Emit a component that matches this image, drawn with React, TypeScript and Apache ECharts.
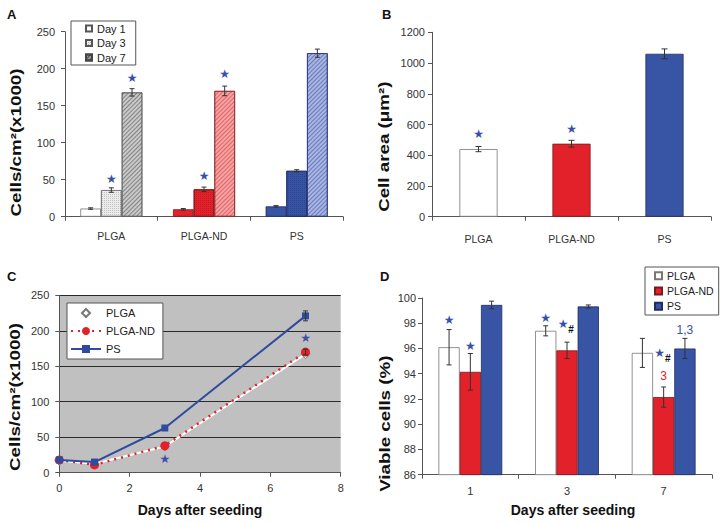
import React, { useEffect, useRef } from "react";
import * as echarts from "echarts";

// ---------- Panel A: cell density by substrate and day ----------
const groups = ["PLGA", "PLGA-ND", "PS"];
const densityDays = ["Day 1", "Day 3", "Day 7"];
const densityTicks = [0, 50, 100, 150, 200, 250];
const densityDay1 = [11, 10, 14];
const densityDay3 = [36, 37, 62];
const densityDay7 = [168, 170, 221];
const densityErrDay1 = [1, 1, 1];
const densityErrDay3 = [3, 3, 1.5];
const densityErrDay7 = [5, 6.5, 5.5];
// [group, day index, star height in data units]
const densityStars = [
  [0, 1, 51],
  [0, 2, 187],
  [1, 1, 55],
  [1, 2, 193],
];

// ---------- Panel B: cell area ----------
const areaTicks = [0, 200, 400, 600, 800, 1000, 1200];
const areaValues = [440, 475, 1060];
const areaErr = [17, 22, 32];
const areaStars = [
  [0, 536],
  [1, 569],
];

// ---------- Panel C: growth curves ----------
const growthXTicks = [0, 2, 4, 6, 8];
const growthYTicks = [0, 50, 100, 150, 200, 250];
const growthDays = [0, 1, 3, 7];
const growthPLGA = [17, 12.5, 37, 167];
const growthND = [18, 11, 38, 170];
const growthPS = [18, 15, 63, 221];
const growthNDErr = [0, 0, 0, 4];
const growthPSErr = [0, 0, 0, 7];
const growthStars = [
  [3, 20],
  [7, 190],
];

// ---------- Panel D: viability ----------
const viableDays = ["1", "3", "7"];
const viableNames = ["PLGA", "PLGA-ND", "PS"];
const viableTicks = [86, 88, 90, 92, 94, 96, 98, 100];
const viablePLGA = [96.1, 97.4, 95.65];
const viableND = [94.15, 95.85, 92.15];
const viablePS = [99.45, 99.33, 96.0];
const viablePLGAErr = [1.4, 0.4, 1.15];
const viableNDErr = [1.45, 0.65, 0.8];
const viablePSErr = [0.3, 0.12, 0.8];
const viableMarks = [
  { day: 0, bar: 0, y: 98.26, text: "★", kind: "star" },
  { day: 0, bar: 1, y: 96.2, text: "★", kind: "star" },
  { day: 1, bar: 0, y: 98.4, text: "★", kind: "star" },
  { day: 1, bar: 1, y: 97.96, text: "★", kind: "starL" },
  { day: 1, bar: 1, y: 97.47, text: "#", kind: "hash" },
  { day: 2, bar: 1, y: 95.67, text: "★", kind: "starL" },
  { day: 2, bar: 1, y: 95.17, text: "#", kind: "hash" },
  { day: 2, bar: 1, y: 93.82, text: "3", kind: "red" },
  { day: 2, bar: 2, y: 97.47, text: "1,3", kind: "blue" },
];

// ---------- styles ----------
const RED = "#e3212a";
const BLUE = "#3754a5";
const STAR_BLUE = "#3a50a8";
const AXIS = "#555";
const LABEL = "#333";
const FONT = "Liberation Sans";

const markStyle: Record<string, any> = {
  star: { dx: 0, fill: STAR_BLUE, font: `12px "DejaVu Sans"` },
  starL: { dx: -4, fill: STAR_BLUE, font: `12px "DejaVu Sans"` },
  hash: { dx: 4, fill: "#111", font: `bold 10px "${FONT}"` },
  red: { dx: 0, fill: RED, font: `12px "${FONT}"` },
  blue: { dx: 0, fill: STAR_BLUE, font: `12px "${FONT}"` },
};

const dots = (c: string) => ({
  symbol: "rect",
  symbolSize: 1,
  dashArrayX: [1, 1],
  dashArrayY: [1, 1],
  color: c,
});
const hatch = (c: string) => ({
  symbol: "rect",
  symbolSize: 1,
  dashArrayX: [1, 0],
  dashArrayY: [1, 2],
  rotation: -Math.PI / 4,
  color: c,
});

const day1Styles = [
  { color: "#ffffff", borderColor: "#777", borderWidth: 0.8 },
  { color: RED, borderColor: "#7a1a1a", borderWidth: 0.8 },
  { color: BLUE, borderColor: "#1f2d60", borderWidth: 0.8 },
];
const day3Styles = [
  { color: "#ececec", borderColor: "#777", borderWidth: 0.8, decal: dots("rgba(0,0,0,0.18)") },
  { color: RED, borderColor: "#7a1a1a", borderWidth: 0.8, decal: dots("rgba(120,0,0,0.25)") },
  { color: BLUE, borderColor: "#1f2d60", borderWidth: 0.8, decal: dots("rgba(10,20,70,0.25)") },
];
const day7Styles = [
  { color: "#c9c9c9", borderColor: "#666", borderWidth: 0.8, decal: hatch("rgba(0,0,0,0.35)") },
  { color: "#f6a3a3", borderColor: "#8a3030", borderWidth: 0.8, decal: hatch("rgba(200,20,30,0.45)") },
  { color: "#aab6e2", borderColor: "#2a3a78", borderWidth: 0.8, decal: hatch("rgba(40,60,150,0.5)") },
];
const areaStyles = [
  { color: "#ffffff", borderColor: "#777", borderWidth: 0.8 },
  { color: RED, borderColor: "#7a1a1a", borderWidth: 0.8 },
  { color: BLUE, borderColor: "#1f2d60", borderWidth: 0.8 },
];
const viableStyles = [
  { color: "#ffffff", borderColor: "#777", borderWidth: 0.8 },
  { color: RED, borderColor: "#7a1a1a", borderWidth: 0.8 },
  { color: BLUE, borderColor: "#1f2d60", borderWidth: 0.8 },
];

const GAP_A = 0.33;
const GAP_B = 0.59;
const GAP_D = 0.34;

function errRender(nBars: number, gap: number, cap: number) {
  return (_params: any, api: any) => {
    const cat = api.value(0);
    const v = api.value(1);
    const e = api.value(2);
    const bar = api.value(3);
    if (!e) return null;
    const band = api.size([1, 0])[0];
    const bw = (band * (1 - gap)) / nBars;
    const top = api.coord([cat, v + e]);
    const bot = api.coord([cat, v - e]);
    const x = top[0] + (bar - (nBars - 1) / 2) * bw;
    const st = { stroke: "#333", lineWidth: 1 };
    return {
      type: "group",
      children: [
        { type: "line", shape: { x1: x, y1: top[1], x2: x, y2: bot[1] }, style: st },
        { type: "line", shape: { x1: x - cap, y1: top[1], x2: x + cap, y2: top[1] }, style: st },
        { type: "line", shape: { x1: x - cap, y1: bot[1], x2: x + cap, y2: bot[1] }, style: st },
      ],
    };
  };
}

function markRender(nBars: number, gap: number, kinds: string[], texts: string[]) {
  return (params: any, api: any) => {
    const cat = api.value(0);
    const y = api.value(1);
    const bar = api.value(2);
    const band = api.size([1, 0])[0];
    const bw = (band * (1 - gap)) / nBars;
    const p = api.coord([cat, y]);
    const s = markStyle[kinds[params.dataIndex]];
    return {
      type: "text",
      x: p[0] + (bar - (nBars - 1) / 2) * bw + s.dx,
      y: p[1],
      style: {
        text: texts[params.dataIndex],
        fill: s.fill,
        font: s.font,
        align: "center",
        verticalAlign: "middle",
        textAlign: "center",
        textVerticalAlign: "middle",
      },
    };
  };
}

const catAxis = (gridIndex: number, data: string[], margin: number, fontSize: number) => ({
  type: "category",
  gridIndex,
  data,
  axisLine: { show: true, lineStyle: { color: AXIS, width: 1 } },
  axisTick: { show: true, length: 4, lineStyle: { color: AXIS } },
  axisLabel: { margin, fontSize, color: LABEL, fontFamily: FONT },
  splitLine: { show: false },
});

const valAxis = (gridIndex: number, ticks: number[], margin: number, split: boolean) => ({
  type: "value",
  gridIndex,
  min: ticks[0],
  max: ticks[ticks.length - 1],
  interval: ticks[1] - ticks[0],
  axisLine: { show: true, onZero: false, lineStyle: { color: AXIS, width: 1 } },
  axisTick: { show: true, length: 4, lineStyle: { color: AXIS } },
  axisLabel: {
    margin,
    fontSize: 11,
    color: LABEL,
    fontFamily: FONT,
    formatter: (v: number) => String(v),
  },
  splitLine: { show: split, lineStyle: { color: "#2a2a2a", width: 1 } },
});

const label = (text: string, x: number, y: number) => ({
  type: "text",
  x,
  y,
  style: {
    text,
    fill: "#111",
    font: `bold 13px "${FONT}"`,
    align: "left",
    verticalAlign: "top",
    textAlign: "left",
    textVerticalAlign: "top",
  },
});

const yName = (text: string, x: number, y: number) => ({
  type: "text",
  x,
  y,
  rotation: Math.PI / 2,
  scaleX: 1.34,
  scaleY: 1,
  style: {
    text,
    fill: "#111",
    font: `bold 14px "${FONT}"`,
    align: "center",
    verticalAlign: "middle",
    textAlign: "center",
    textVerticalAlign: "middle",
  },
});

const xName = (text: string, x: number, y: number) => ({
  type: "text",
  x,
  y,
  style: {
    text,
    fill: "#111",
    font: `bold 14px "${FONT}"`,
    align: "center",
    verticalAlign: "middle",
    textAlign: "center",
    textVerticalAlign: "middle",
  },
});

function buildOption() {
  const densityVals = [densityDay1, densityDay3, densityDay7];
  const densityErrs = [densityErrDay1, densityErrDay3, densityErrDay7];
  const densityStyleSets = [day1Styles, day3Styles, day7Styles];
  const densityLegendStyles = [
    { color: "#ffffff", borderColor: "#555", borderWidth: 0.8 },
    { color: "#ececec", borderColor: "#555", borderWidth: 0.8, decal: dots("rgba(0,0,0,0.25)") },
    { color: "#999999", borderColor: "#444", borderWidth: 0.8, decal: hatch("rgba(0,0,0,0.55)") },
  ];

  const densityBars = densityDays.map((d, k) => ({
    type: "bar",
    name: d,
    xAxisIndex: 0,
    yAxisIndex: 0,
    barGap: "0%",
    barCategoryGap: `${GAP_A * 100}%`,
    itemStyle: densityLegendStyles[k],
    data: densityVals[k].map((v, i) => ({ value: v, itemStyle: densityStyleSets[k][i] })),
  }));

  const densityErrData: number[][] = [];
  densityVals.forEach((vals, k) =>
    vals.forEach((v, i) => densityErrData.push([i, v, densityErrs[k][i], k]))
  );

  const viableVals = [viablePLGA, viableND, viablePS];
  const viableErrs = [viablePLGAErr, viableNDErr, viablePSErr];
  const viableBars = viableNames.map((n, k) => ({
    type: "bar",
    name: n + " ",
    xAxisIndex: 3,
    yAxisIndex: 3,
    barGap: "0%",
    barCategoryGap: `${GAP_D * 100}%`,
    itemStyle: viableStyles[k],
    data: viableVals[k],
  }));
  const viableErrData: number[][] = [];
  viableVals.forEach((vals, k) =>
    vals.forEach((v, i) => viableErrData.push([i, v, viableErrs[k][i], k]))
  );

  const starKinds = (n: number) => Array.from({ length: n }, () => "star");
  const starTexts = (n: number) => Array.from({ length: n }, () => "★");

  return {
    animation: false,
    backgroundColor: "#ffffff",
    textStyle: { fontFamily: FONT },
    grid: [
      { left: 65, top: 31.7, width: 278, height: 185 },
      { left: 432, top: 32.3, width: 279, height: 184.4 },
      {
        left: 59.3,
        top: 295.3,
        width: 281.4,
        height: 177.4,
        show: true,
        backgroundColor: "#c0c0c0",
        borderWidth: 0,
      },
      { left: 422, top: 298, width: 290, height: 176.7 },
    ],
    xAxis: [
      catAxis(0, groups, 14, 10.5),
      catAxis(1, groups, 17, 10.5),
      valAxis(2, growthXTicks, 10, false),
      catAxis(3, viableDays, 11, 11),
    ],
    yAxis: [
      valAxis(0, densityTicks, 10, false),
      valAxis(1, areaTicks, 7, false),
      valAxis(2, growthYTicks, 10, true),
      valAxis(3, viableTicks, 6, false),
    ],
    legend: [
      {
        left: 71,
        top: 21,
        orient: "vertical",
        data: densityDays,
        icon: "rect",
        itemWidth: 6,
        itemHeight: 6,
        itemGap: 3.5,
        padding: [2, 10, 2, 14],
        borderColor: "#555",
        borderWidth: 1,
        backgroundColor: "#fff",
        selectedMode: false,
        textStyle: { fontSize: 11, color: "#222", fontFamily: FONT },
      },
      {
        left: 67,
        top: 303,
        orient: "vertical",
        data: viableNames,
        itemWidth: 30,
        itemHeight: 10,
        itemGap: 7,
        padding: [4.5, 8, 4.5, 3],
        borderColor: "#555",
        borderWidth: 1,
        backgroundColor: "#fff",
        selectedMode: false,
        textStyle: { fontSize: 11, color: "#222", fontFamily: FONT },
      },
      {
        left: 645,
        top: 267,
        orient: "vertical",
        data: viableNames.map((n) => n + " "),
        formatter: (n: string) => n.trim(),
        icon: "rect",
        itemWidth: 7,
        itemHeight: 7,
        itemGap: 4.3,
        padding: [3.2, 5, 3.2, 9],
        borderColor: "#555",
        borderWidth: 1,
        backgroundColor: "#fff",
        selectedMode: false,
        textStyle: { fontSize: 10.5, color: "#222", fontFamily: FONT },
      },
    ],
    graphic: [
      label("A", 7, 8),
      label("B", 382, 8),
      label("C", 7, 270),
      label("D", 380, 270),
      yName("Cells/cm²(x1000)", 16, 142.5),
      yName("Cell area (μm²)", 384, 146.7),
      yName("Cells/cm²(x1000)", 15, 397),
      yName("Viable cells (%)", 385.3, 423.7),
      xName("Days after seeding", 200, 510),
      xName("Days after seeding", 573, 510),
    ],
    series: [
      // Panel A
      ...densityBars,
      {
        type: "custom",
        xAxisIndex: 0,
        yAxisIndex: 0,
        renderItem: errRender(3, GAP_A, 2.5),
        data: densityErrData,
        z: 5,
      },
      {
        type: "custom",
        xAxisIndex: 0,
        yAxisIndex: 0,
        renderItem: markRender(3, GAP_A, starKinds(densityStars.length), starTexts(densityStars.length)),
        data: densityStars.map((s) => [s[0], s[2], s[1]]),
        z: 6,
      },
      // Panel B
      {
        type: "bar",
        name: "Cell area",
        xAxisIndex: 1,
        yAxisIndex: 1,
        barWidth: `${(1 - GAP_B) * 100}%`,
        data: areaValues.map((v, i) => ({ value: v, itemStyle: areaStyles[i] })),
      },
      {
        type: "custom",
        xAxisIndex: 1,
        yAxisIndex: 1,
        renderItem: errRender(1, GAP_B, 3),
        data: areaValues.map((v, i) => [i, v, areaErr[i], 0]),
        z: 5,
      },
      {
        type: "custom",
        xAxisIndex: 1,
        yAxisIndex: 1,
        renderItem: markRender(1, GAP_B, starKinds(areaStars.length), starTexts(areaStars.length)),
        data: areaStars.map((s) => [s[0], s[1], 0]),
        z: 6,
      },
      // Panel C
      {
        type: "line",
        name: "PLGA",
        xAxisIndex: 2,
        yAxisIndex: 2,
        data: growthDays.map((d, i) => [d, growthPLGA[i]]),
        symbol: "diamond",
        symbolSize: 9,
        showAllSymbol: true,
        lineStyle: { color: "#ffffff", width: 2 },
        itemStyle: { color: "#ffffff", borderColor: "#777", borderWidth: 1 },
        z: 2,
      },
      {
        type: "line",
        name: "PLGA-ND",
        xAxisIndex: 2,
        yAxisIndex: 2,
        data: growthDays.map((d, i) => [d, growthND[i]]),
        symbol: "circle",
        symbolSize: 9,
        lineStyle: { color: RED, width: 2.5, type: [2, 5] },
        itemStyle: { color: RED },
        z: 3,
      },
      {
        type: "line",
        name: "PS",
        xAxisIndex: 2,
        yAxisIndex: 2,
        data: growthDays.map((d, i) => [d, growthPS[i]]),
        symbol: "rect",
        symbolSize: 7,
        lineStyle: { color: "#2f4b9f", width: 2 },
        itemStyle: { color: "#2f4b9f" },
        z: 4,
      },
      {
        type: "custom",
        xAxisIndex: 2,
        yAxisIndex: 2,
        renderItem: errRender(1, 0, 2.5),
        data: [
          ...growthDays.map((d, i) => [d, growthND[i], growthNDErr[i], 0]),
          ...growthDays.map((d, i) => [d, growthPS[i], growthPSErr[i], 0]),
        ],
        z: 5,
      },
      {
        type: "custom",
        xAxisIndex: 2,
        yAxisIndex: 2,
        renderItem: markRender(1, 0, starKinds(growthStars.length), starTexts(growthStars.length)),
        data: growthStars.map((s) => [s[0], s[1], 0]),
        z: 6,
      },
      // Panel D
      ...viableBars,
      {
        type: "custom",
        xAxisIndex: 3,
        yAxisIndex: 3,
        renderItem: errRender(3, GAP_D, 2.5),
        data: viableErrData,
        z: 5,
      },
      {
        type: "custom",
        xAxisIndex: 3,
        yAxisIndex: 3,
        renderItem: markRender(
          3,
          GAP_D,
          viableMarks.map((m) => m.kind),
          viableMarks.map((m) => m.text)
        ),
        data: viableMarks.map((m) => [m.day, m.y, m.bar]),
        z: 6,
      },
    ],
  };
}

export default function App() {
  const ref = useRef<HTMLDivElement>(null);
  useEffect(() => {
    if (!ref.current) return;
    const chart = echarts.init(ref.current, undefined, { renderer: "svg" });
    chart.setOption(buildOption() as any);
    return () => chart.dispose();
  }, []);
  return (
    <div
      ref={ref}
      style={{ position: "fixed", left: 0, top: 0, width: 724, height: 523, background: "#fff" }}
    />
  );
}
